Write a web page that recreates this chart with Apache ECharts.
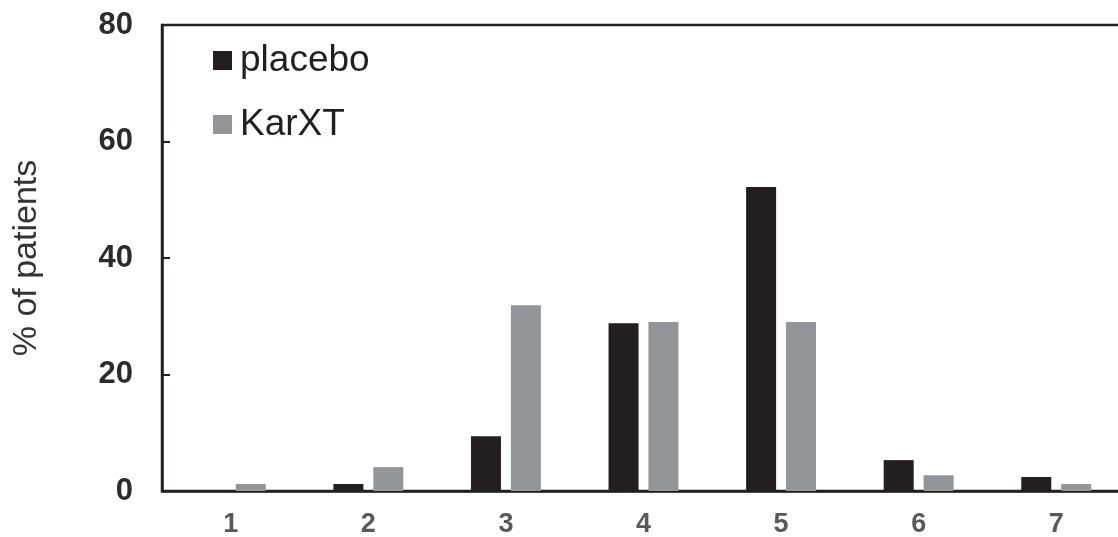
<!DOCTYPE html>
<html>
<head>
<meta charset="utf-8">
<script src="https://cdn.jsdelivr.net/npm/echarts@6/dist/echarts.min.js"></script>
<style>html,body{margin:0;padding:0;background:#fff}#c{width:1118px;height:537px}</style>
</head>
<body>
<div id="c"></div>
<script>
var categories = ['1', '2', '3', '4', '5', '6', '7'];
var placebo = [0, 1.2, 9.4, 28.8, 52.2, 5.3, 2.4];
var karxt = [1.2, 4.1, 31.9, 29.0, 29.0, 2.7, 1.2];
var yTicks = [0, 20, 40, 60, 80];

var chart = echarts.init(document.getElementById('c'));
chart.setOption({
  animation: false,
  backgroundColor: '#fff',
  textStyle: { fontFamily: 'Liberation Sans, Arial, sans-serif' },
  legend: {
    orient: 'vertical',
    left: 208, top: 37,
    itemWidth: 19, itemHeight: 19, itemGap: 27,
    icon: 'rect',
    textStyle: { fontSize: 37, color: '#231f20', fontFamily: 'Liberation Sans', padding: [0, 0, 0, 3] },
    data: ['placebo', 'KarXT']
  },
  grid: {
    left: 162, top: 25, width: 963, height: 466,
    outerBoundsMode: 'none',
    show: true, borderColor: '#231f20', borderWidth: 2.5,
    containLabel: false
  },
  xAxis: {
    type: 'category',
    data: categories,
    axisLine: { lineStyle: { color: '#231f20', width: 2.5 } },
    axisTick: { show: false },
    axisLabel: { fontSize: 27, fontWeight: 'bold', color: '#58595b', margin: 20, fontFamily: 'Liberation Sans' }
  },
  yAxis: {
    type: 'value',
    min: yTicks[0], max: yTicks[yTicks.length - 1], interval: 20,
    name: '% of patients',
    nameLocation: 'middle',
    nameGap: 118,
    nameTextStyle: { fontSize: 34, color: '#333', fontFamily: 'Liberation Sans' },
    splitLine: { show: false },
    axisLine: { show: true, lineStyle: { color: '#231f20', width: 2.5 } },
    axisTick: { show: true, inside: true, length: 8, lineStyle: { color: '#231f20', width: 2 } },
    axisLabel: { fontSize: 31, fontWeight: 'bold', color: '#2b2b2b', margin: 29, fontFamily: 'Liberation Sans' }
  },
  series: [
    { name: 'placebo', type: 'bar', data: placebo, barWidth: 30, barGap: '33%', itemStyle: { color: '#231f20' } },
    { name: 'KarXT', type: 'bar', data: karxt, barWidth: 30, itemStyle: { color: '#939598' } }
  ]
});
</script>
</body>
</html>
